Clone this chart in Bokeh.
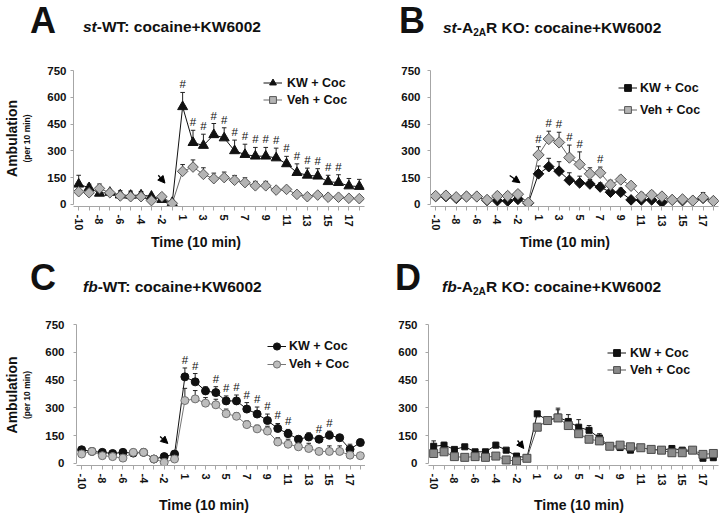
import math
from bokeh.plotting import figure
from bokeh.layouts import column, row
from bokeh.models import (Range1d, LinearAxis, FixedTicker, Legend, LegendItem,
                          Arrow, NormalHead, Div)
from bokeh.core.properties import value
from bokeh.embed import file_html
from bokeh.resources import INLINE

# ---------------- data ----------------
times = [-10, -9, -8, -7, -6, -5, -4, -3, -2, -1,
         1, 2, 3, 4, 5, 6, 7, 8, 9, 10, 11, 12, 13, 14, 15, 16, 17, 18]
tick_labels = [str(t) for t in times]
y_ticks = [0, 150, 300, 450, 600, 750]
series_names = ["KW + Coc", "Veh + Coc"]
x_title = "Time (10 min)"
y_title = "Ambulation"
y_subtitle = "(per 10 min)"

# Panel A: st-WT
kw_A = [113, 93, 62, 67, 52, 50, 52, 45, 27, 10, 547, 346, 330, 390, 372, 300, 279, 270, 270, 260, 227, 178, 163, 158, 127, 122, 103, 100]
kw_A_err = [50, 20, 15, 10, 24, 24, 20, 8, 8, 5, 80, 69, 63, 63, 57, 60, 58, 49, 49, 55, 42, 49, 40, 42, 36, 44, 42, 40]
veh_A = [71, 65, 89, 65, 47, 43, 43, 21, 43, 6, 185, 209, 168, 144, 150, 135, 122, 104, 104, 80, 84, 56, 43, 52, 40, 40, 34, 32]
veh_A_err = [12, 15, 25, 10, 12, 10, 10, 8, 10, 5, 38, 40, 37, 31, 31, 27, 27, 25, 25, 15, 15, 12, 10, 10, 10, 10, 10, 10]
hash_A = [1, 2, 3, 4, 5, 6, 7, 8, 9, 10, 11, 12, 13, 14, 15, 16]

# Panel B: st-A2AR KO
kw_B = [44, 44, 34, 44, 44, 22, 21, 19, 28, 6, 171, 211, 186, 135, 120, 114, 97, 68, 68, 25, 25, 25, 11, 25, 21, 21, 34, 19]
kw_B_err = [10, 15, 10, 10, 10, 10, 10, 10, 10, 5, 44, 47, 53, 42, 38, 25, 23, 23, 23, 10, 10, 10, 8, 8, 8, 8, 15, 8]
veh_B = [47, 49, 40, 44, 44, 25, 47, 47, 57, 9, 277, 366, 347, 262, 224, 171, 177, 110, 139, 104, 44, 53, 44, 25, 28, 21, 38, 19]
veh_B_err = [12, 20, 12, 12, 12, 15, 20, 20, 18, 5, 46, 44, 57, 70, 70, 34, 32, 25, 19, 19, 22, 20, 18, 8, 8, 8, 28, 8]
hash_B = [1, 2, 3, 4, 5, 7]

# Panel C: fb-WT
kw_C = [73, 64, 59, 53, 59, 55, 59, 23, 36, 50, 467, 440, 391, 382, 337, 337, 293, 266, 231, 188, 160, 130, 142, 130, 151, 138, 76, 112]
kw_C_err = [10, 12, 8, 8, 8, 10, 10, 8, 8, 8, 48, 45, 23, 32, 27, 32, 35, 38, 35, 27, 23, 17, 23, 14, 23, 18, 27, 18]
veh_C = [50, 64, 41, 36, 28, 59, 59, 23, 5, 23, 339, 348, 325, 316, 268, 254, 209, 186, 174, 115, 103, 89, 80, 64, 64, 64, 44, 41]
veh_C_err = [10, 15, 8, 8, 8, 17, 10, 8, 5, 8, 66, 45, 30, 30, 25, 20, 20, 20, 26, 23, 27, 15, 28, 15, 30, 30, 15, 10]
hash_C = [1, 2, 4, 5, 6, 7, 8, 9, 10, 11, 14, 15]

# Panel D: fb-A2AR KO
kw_D = [92, 98, 75, 89, 62, 62, 98, 71, 39, 30, 267, 231, 249, 226, 195, 178, 137, 92, 85, 71, 84, 75, 71, 80, 71, 71, 27, 30]
kw_D_err = [29, 15, 10, 10, 8, 8, 15, 8, 8, 5, 8, 8, 49, 37, 41, 26, 23, 12, 10, 8, 8, 8, 8, 10, 8, 8, 5, 5]
veh_D = [53, 62, 36, 32, 36, 32, 39, 18, 12, 27, 195, 231, 245, 204, 160, 130, 121, 92, 98, 89, 84, 75, 71, 57, 57, 71, 48, 53]
veh_D_err = [10, 10, 8, 8, 8, 8, 8, 8, 5, 5, 10, 10, 44, 20, 20, 15, 15, 15, 12, 10, 8, 8, 8, 8, 8, 8, 8, 8]
hash_D = []

# ---------------- styles / layout ----------------
FONT = "Liberation Sans"
AXIS_GRAY = "#a6a6a6"
INK = "#111111"
# frames in one row are aligned by the layout, so each row shares its top border / frame height
ROWS = {1: dict(head_h=45, fig_h=188, foot_h=24, bt=25, fh=137),
        2: dict(head_h=43, fig_h=192, foot_h=22, bt=24, fh=142)}

panels = {
    "A": dict(row=1, width=365, bl=65, br=1, ystand=4,
              letter=(30, 33), title_x=83, title_y=32,
              title=[("st", True, 1.0, 0), ("-WT: cocaine+KW6002", False, 1.0, 0)],
              ylab=(12, 0), time=(196, 14),
              legend=(190, 98, 17, 0, 5), arrow=((7.66, 163), (8.3, 119)),
              kw=dict(marker="triangle", size=10, angle=0, fill=INK, line=INK),
              veh=dict(marker="square", size=7.5, angle=math.pi / 4, fill="#b4b4b4", line="#555555"),
              veh_line="#666666"),
    "B": dict(row=1, width=355, bl=65, br=2, ystand=7,
              letter=(34, 33), title_x=78, title_y=33,
              title=[("st", True, 1.0, 0), ("-A", False, 1.0, 0), ("2A", False, 0.65, 3),
                     ("R KO: cocaine+KW6002", False, 1.0, 0)],
              ylab=None, time=(200, 14),
              legend=(188, 88, 17, 5, 3), arrow=((7.2, 162), (8.2, 121)),
              kw=dict(marker="square", size=7.5, angle=math.pi / 4, fill=INK, line=INK),
              veh=dict(marker="square", size=8, angle=math.pi / 4, fill="#b4b4b4", line="#555555"),
              veh_line="#666666"),
    "C": dict(row=2, width=365, bl=62, br=0, ystand=9,
              letter=(30, 33), title_x=83, title_y=35,
              title=[("fb", True, 1.0, 0), ("-WT: cocaine+KW6002", False, 1.0, 0)],
              ylab=(10, 0), time=(204, 18),
              legend=(191, 92, 18, 0, 3), arrow=((7.6, 145), (8.35, 107)),
              kw=dict(marker="circle", size=8, angle=0, fill=INK, line=INK),
              veh=dict(marker="circle", size=8, angle=0, fill="#bdbdbd", line="#707070"),
              veh_line="#777777"),
    "D": dict(row=2, width=355, bl=63, br=2, ystand=8,
              letter=(30, 33), title_x=77, title_y=35,
              title=[("fb", True, 1.0, 0), ("-A", False, 1.0, 0), ("2A", False, 0.65, 3),
                     ("R KO: cocaine+KW6002", False, 1.0, 0)],
              ylab=None, time=(214, 18),
              legend=(179, 87, 17, 0, 4), arrow=((8.1, 123), (8.7, 80)),
              kw=dict(marker="square", size=6, angle=0, fill=INK, line=INK),
              veh=dict(marker="square", size=8, angle=0, fill="#8a8a8a", line="#4a4a4a"),
              veh_line="#555555"),
}


def svg_div(width, height, body):
    svg = (f'<svg xmlns="http://www.w3.org/2000/svg" width="{width}" height="{height}" '
           f'style="display:block">{body}</svg>')
    return Div(text=svg, width=width, height=height, margin=0)


def header(key):
    g = panels[key]
    lx, ly = g["letter"]
    spans = []
    dy_now = 0
    for txt, ital, scale, dy in g["title"]:
        shift = dy - dy_now
        dy_now = dy
        style = ' font-style="italic"' if ital else ''
        spans.append(f'<tspan dy="{shift}" font-size="{round(15.5 * scale, 1)}"{style}>{txt}</tspan>')
    body = (f'<text x="{lx}" y="{ly}" font-family="{FONT}" font-weight="bold" font-size="36" '
            f'fill="{INK}">{key}</text>'
            f'<text x="{g["title_x"]}" y="{g["title_y"]}" font-family="{FONT}" font-weight="bold" '
            f'font-size="15.5" fill="{INK}">{"".join(spans)}</text>')
    return svg_div(g["width"], ROWS[g["row"]]["head_h"], body)


def footer(key):
    g = panels[key]
    tx, ty = g["time"]
    body = (f'<text x="{tx}" y="{ty}" text-anchor="middle" font-family="{FONT}" font-weight="bold" '
            f'font-size="14" fill="{INK}">{x_title}</text>')
    return svg_div(g["width"], ROWS[g["row"]]["foot_h"], body)


def style_axis(ax):
    ax.axis_line_color = AXIS_GRAY
    ax.major_tick_line_color = AXIS_GRAY
    ax.minor_tick_line_color = None
    ax.major_tick_in = 0
    ax.major_label_text_font = FONT
    ax.major_label_text_font_style = "bold"
    ax.major_label_text_color = INK
    ax.axis_label_text_font = FONT
    ax.axis_label_text_font_style = "bold"
    ax.axis_label_text_color = INK


def make_panel(key, kw, kw_err, veh, veh_err, hashes, hash_series):
    g = panels[key]
    r = ROWS[g["row"]]
    bb = r["fig_h"] - r["bt"] - r["fh"]
    idx = list(range(len(times)))
    p = figure(width=g["width"], height=r["fig_h"], output_backend="svg", toolbar_location=None,
               title=None,
               x_range=Range1d(-0.5, len(times) - 0.5), y_range=Range1d(-12, 750),
               min_border_left=g["bl"], min_border_right=g["br"], min_border_top=r["bt"],
               min_border_bottom=bb, x_axis_type=None, y_axis_type=None)
    p.outline_line_color = None

    # x axis with tick labels (every other time point labelled)
    overrides = {i: (tick_labels[i] if i % 2 == 0 else "") for i in idx}
    xa = LinearAxis(ticker=FixedTicker(ticks=idx), major_label_overrides=overrides)
    style_axis(xa)
    xa.major_tick_out = 4
    xa.major_label_standoff = 4
    xa.major_label_text_font_size = "11px"
    xa.major_label_orientation = "vertical"
    p.add_layout(xa, "below")

    # y axis
    ya = LinearAxis(ticker=FixedTicker(ticks=y_ticks), bounds=(0, 750))
    style_axis(ya)
    ya.major_tick_out = 3
    ya.major_label_standoff = g["ystand"]
    ya.major_label_text_font_size = "11.5px"
    if g["ylab"]:
        s1, s2 = g["ylab"]
        ya.axis_label = y_subtitle
        ya.axis_label_text_font_size = "8.5px"
        ya.axis_label_standoff = s1
    p.add_layout(ya, "left")
    if g["ylab"]:
        yt = LinearAxis(ticker=FixedTicker(ticks=[]), bounds=(0, 750), axis_label=y_title)
        style_axis(yt)
        yt.axis_line_color = None
        yt.major_tick_out = 0
        yt.major_label_standoff = 0
        yt.axis_label_standoff = s2
        yt.axis_label_text_font_size = "14px"
        p.add_layout(yt, "left")

    renderers = {}
    for name, vals, errs, lc in (("kw", kw, kw_err, INK), ("veh", veh, veh_err, g["veh_line"])):
        tops = [v + e for v, e in zip(vals, errs)]
        p.segment(x0=idx, y0=vals, x1=idx, y1=tops, line_color="#222222", line_width=1)
        p.segment(x0=[i - 0.22 for i in idx], y0=tops, x1=[i + 0.22 for i in idx], y1=tops,
                  line_color="#222222", line_width=1)
        renderers[name] = p.line(idx, vals, line_color=lc, line_width=1)

    for name, vals in (("kw", kw), ("veh", veh)):
        st = g[name]
        renderers[name + "_m"] = p.scatter(idx, vals, marker=st["marker"], size=st["size"],
                                           angle=st["angle"], fill_color=st["fill"],
                                           line_color=st["line"], line_width=1)

    # significance marks
    if hashes:
        sv, se = (kw, kw_err) if hash_series == "kw" else (veh, veh_err)
        hx = [times.index(t) for t in hashes]
        hy = [sv[i] + se[i] for i in hx]
        p.text(x=hx, y=hy, text=["#"] * len(hx), text_font=value(FONT), text_font_size="11.5px",
               text_align="center", text_baseline="bottom", y_offset=-2, text_color=INK)

    # injection arrow
    (xs, ys), (xe, ye) = g["arrow"]
    p.add_layout(Arrow(end=NormalHead(size=7, fill_color="black", line_color="black", line_width=1),
                       x_start=xs, y_start=ys, x_end=xe, y_end=ye, line_color="black", line_width=1.3))

    # legend
    lx, lyb, gh, sp, so = g["legend"]
    leg = Legend(items=[LegendItem(label=series_names[0], renderers=[renderers["kw"], renderers["kw_m"]]),
                        LegendItem(label=series_names[1], renderers=[renderers["veh"], renderers["veh_m"]])],
                 location=(lx, lyb), orientation="vertical", padding=0, margin=0, spacing=sp,
                 glyph_width=19, glyph_height=gh, label_height=gh, label_standoff=so,
                 background_fill_alpha=0, border_line_alpha=0,
                 label_text_font=FONT, label_text_font_style="bold", label_text_font_size="12.5px",
                 label_text_color=INK)
    p.add_layout(leg)
    return p


pA = make_panel("A", kw_A, kw_A_err, veh_A, veh_A_err, hash_A, "kw")
pB = make_panel("B", kw_B, kw_B_err, veh_B, veh_B_err, hash_B, "veh")
pC = make_panel("C", kw_C, kw_C_err, veh_C, veh_C_err, hash_C, "kw")
pD = make_panel("D", kw_D, kw_D_err, veh_D, veh_D_err, hash_D, "kw")

layout = column(row(header("A"), header("B")), row(pA, pB), row(footer("A"), footer("B")),
                row(header("C"), header("D")), row(pC, pD), row(footer("C"), footer("D")))
open("out.html", "w").write(file_html(layout, INLINE))
